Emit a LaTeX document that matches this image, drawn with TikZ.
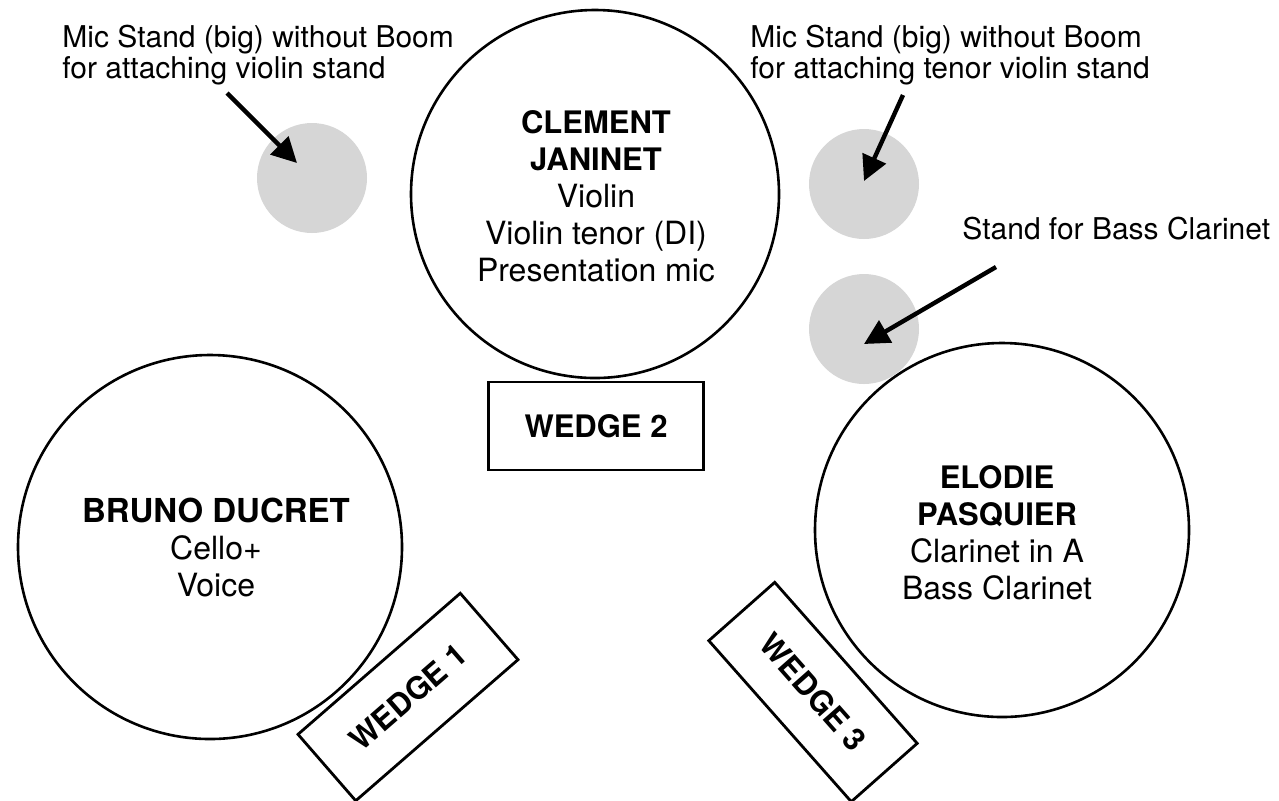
\documentclass[tikz,border=0pt]{standalone}
\usepackage{fontspec}
\setmainfont{TeX Gyre Heros}
\usetikzlibrary{arrows.meta}
\definecolor{standgray}{RGB}{214,214,214}
\tikzstyle{player}=[circle,draw,line width=1.3pt,inner sep=0pt]
\tikzstyle{stand}=[circle,fill=standgray,minimum size=55pt,inner sep=0pt]
\tikzstyle{wedge}=[draw,fill=white,line width=1.4pt,minimum width=107.5pt,minimum height=44pt,inner sep=0pt,font=\fontsize{15.5}{18}\selectfont\bfseries]
\tikzstyle{names}=[align=center,inner sep=0pt,anchor=north,font=\fontsize{16}{18.5}\selectfont]
\tikzstyle{note}=[align=left,inner sep=0pt,font=\fontsize{15}{15.5}\selectfont]
\tikzstyle{pointer}=[draw,line width=2.2pt,-{Triangle[length=12.5pt,width=12.5pt]}]
\newcommand{\playername}[2][15.5]{{\fontsize{#1}{18.5}\selectfont\bfseries #2}}

\begin{document}
\begin{tikzpicture}[x=0.5pt,y=-0.5pt]
    \useasboundingbox (0,0) rectangle (1279,800);

    % players
    \node[player,minimum size=184pt] (clement) at (595,194) {};
    \node[player,minimum size=192pt] (bruno) at (210,547) {};
    \node[player,minimum size=187pt] (elodie) at (1002,530) {};

    \node[names] (clementtxt) at (596,110) {\playername{CLEMENT}\\\playername{JANINET}\\Violin\\Violin tenor (DI)\\Presentation mic};
    \node[names] (brunotxt) at (216,498) {\playername[16.5]{BRUNO DUCRET}\\Cello+\\Voice};
    \node[names] (elodietxt) at (997,465) {\playername{ELODIE}\\\playername{PASQUIER}\\Clarinet in A\\Bass Clarinet};

    % stands
    \node[stand] (violinstand) at (312,178) {};
    \node[stand] (tenorstand) at (864,184) {};
    \node[stand] (clarinetstand) at (864,329) {};

    % wedges
    \node[wedge] (wedge2) at (596,426) {WEDGE 2};
    \node[wedge,rotate=41] (wedge1) at (408,697) {WEDGE 1};
    \node[wedge,rotate=-48.5] (wedge3) at (813,692) {WEDGE 3};

    % notes and arrows
    \node[note,anchor=north west] (violinnote) at (62,25) {Mic Stand (big) without Boom\\for attaching violin stand};
    \node[note,anchor=north west] (tenornote) at (750,25) {Mic Stand (big) without Boom\\for attaching tenor violin stand};
    \node[note,anchor=base west] (clarinetnote) at (962,239) {Stand for Bass Clarinet};

    \coordinate (violintail) at (227,93);
    \coordinate (tenortail) at (903,95);
    \coordinate (clarinettail) at (996,267);
    \draw[pointer] (violintail) -- ([shift={(-15,-15)}]violinstand.center);
    \draw[pointer] (tenortail) -- ([shift={(0,-3)}]tenorstand.center);
    \draw[pointer] (clarinettail) -- ([shift={(0,15)}]clarinetstand.center);
\end{tikzpicture}
\end{document}
